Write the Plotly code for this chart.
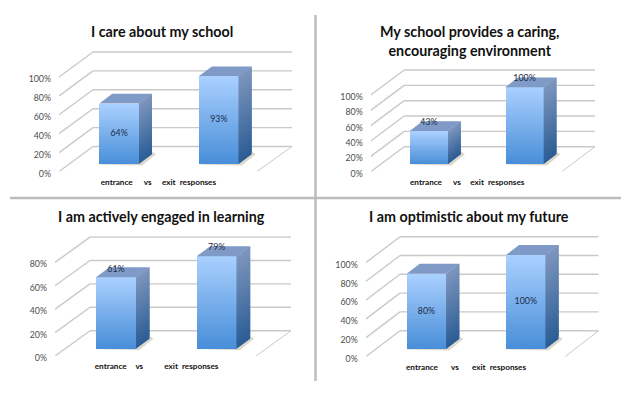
import plotly.graph_objects as go

# ---- data ----
TITLES = ["I care about my school",
          "My school provides a caring,<br>encouraging environment",
          "I am actively engaged in learning",
          "I am optimistic about my future"]
CATEGORY_LABELS = ["entrance", "vs", "exit  responses"]
SCHOOL_CARE = [64, 93]
CARING_ENV = [43, 100]
ENGAGED = [61, 79]
OPTIMISTIC = [80, 100]
AXIS_MAX = [100, 100, 80, 100]
VALUES = [SCHOOL_CARE, CARING_ENV, ENGAGED, OPTIMISTIC]

# ---- layout geometry (pixels in the 633x396 page) ----
W, H = 633, 396
PANELS = [
    dict(fx=59, y0=171.5, scale=0.945, dx=34, dy=25, right=292, fr=257, bars=(99.3, 199), bw=39.7,
         bdx=13, bdy=9.7, base=7.5, tx=162, ty=31.5, lab=(116.7, 147.7, 189), label_top=(False, False)),
    dict(fx=370.7, y0=171.7, scale=0.767, dx=33.5, dy=25, right=595, fr=561.7, bars=(409.7, 505.3), bw=38.5,
         bdx=12.7, bdy=9.7, base=7.7, tx=469, ty=41, lab=(426, 457, 497.3), label_top=(True, True)),
    dict(fx=55, y0=356, scale=1.17, dx=35, dy=25.3, right=291, fr=256, bars=(96, 196.7), bw=40,
         bdx=13.5, bdy=10, base=7.3, tx=161.7, ty=216.7, lab=(110.7, 139.3, 191.3), label_top=(True, True)),
    dict(fx=365.7, y0=356.7, scale=0.94, dx=34.3, dy=26, right=598.7, fr=565, bars=(406.7, 506), bw=39.6,
         bdx=13, bdy=10, base=7.7, tx=469, ty=216.7, lab=(422, 455, 499), label_top=(False, False)),
]
FRONT_TOP, FRONT_BOT = (170, 208, 255), (72, 142, 216)
SIDE_TOP, SIDE_BOT = (126, 150, 190), (42, 92, 148)
TOP_FACE = "#7f9ac6"
SHADOW = "#dcd9cc"
GRID = "#c9c9c9"
TICK_FONT = dict(family="Lato", size=8.8, color="#4d4d4d")
CAT_FONT = dict(family="Lato", size=8.2, color="#111111", weight="bold")
N_SLICES = 30


def mix(a, b, t):
    return "rgb(%d,%d,%d)" % tuple(round(a[i] + (b[i] - a[i]) * t) for i in range(3))


fig = go.Figure()
layout = dict(width=W, height=H, margin=dict(l=0, r=0, t=0, b=0, autoexpand=False), autosize=False,
              paper_bgcolor="white", plot_bgcolor="rgba(0,0,0,0)", showlegend=False, barmode="overlay",
              bargap=0)
shapes, annotations = [], []

for i, (p, vals, amax, title) in enumerate(zip(PANELS, VALUES, AXIS_MAX, TITLES)):
    s = "" if i == 0 else str(i + 1)
    xa, ya = "x" + s, "y" + s
    sc = p["scale"]
    dy_val = p["dy"] / sc
    top_val = amax + dy_val + 1 / sc
    spacing = p["bars"][1] - p["bars"][0]
    c0 = p["bars"][0] + p["bw"] / 2
    to_x = lambda px: (px - c0) / spacing
    xunit = 1 / spacing

    layout["xaxis" + s] = dict(
        domain=[p["fx"] / W, p["right"] / W], range=[to_x(p["fx"]), to_x(p["right"])],
        anchor=ya, showgrid=False, zeroline=False, showline=False, ticks="",
        tickmode="array", tickvals=[to_x(v) for v in p["lab"]], ticktext=CATEGORY_LABELS,
        tickfont=CAT_FONT, tickangle=0, ticklabelstandoff=4, fixedrange=True)
    y_top_px = p["y0"] - top_val * sc
    layout["yaxis" + s] = dict(
        domain=[1 - p["y0"] / H, 1 - y_top_px / H], range=[0, top_val],
        anchor=xa, showgrid=False, zeroline=False, showline=False, ticks="",
        tickmode="array", tickvals=list(range(0, amax + 1, 20)),
        ticktext=["%d%%" % v for v in range(0, amax + 1, 20)],
        tickfont=TICK_FONT, ticklabelstandoff=7, ticklabelshift=2, fixedrange=True)

    # walls and floor
    line = dict(color=GRID, width=1.4)
    bx = to_x(p["fx"] + p["dx"])
    for v in range(0, amax + 1, 20):
        shapes.append(dict(type="line", layer="below", xref=xa, yref=ya, x0=to_x(p["fx"]), y0=v,
                           x1=bx, y1=v + dy_val, line=line))
        shapes.append(dict(type="line", layer="below", xref=xa, yref=ya, x0=bx, y0=v + dy_val,
                           x1=to_x(p["right"]), y1=v + dy_val, line=line))
    shapes.append(dict(type="line", layer="below", xref=xa, yref=ya, x0=to_x(p["fr"]), y0=0,
                       x1=to_x(p["right"]), y1=dy_val, line=dict(color=GRID, width=1)))

    base = p["base"] / sc
    half = p["bw"] / 2 * xunit
    bdx, bdy = p["bdx"] * xunit, p["bdy"] / sc
    for k, v in enumerate(vals):
        # floor shadow
        xr = k + half
        shapes.append(dict(type="path", layer="below", xref=xa, yref=ya,
                           path="M %f %f L %f %f L %f %f L %f %f L %f %f Z" % (
                               k - half - 2 * xunit, base - 0.4 / sc,
                               xr + 3 * xunit, base - 1.6 / sc,
                               xr + bdx + 4 * xunit, base + bdy,
                               xr + bdx, base + bdy + 3 / sc,
                               xr, base + 3 / sc),
                           fillcolor=SHADOW, line=dict(width=0)))
        # front face as stacked gradient slices
        seg = v / N_SLICES
        fig.add_trace(go.Bar(
            x=[k] * N_SLICES, y=[seg] * N_SLICES,
            base=[base + seg * j for j in range(N_SLICES)],
            width=p["bw"] * xunit,
            marker=dict(color=[mix(FRONT_BOT, FRONT_TOP, (j + 0.5) / N_SLICES) for j in range(N_SLICES)],
                        line=dict(width=0)),
            xaxis=xa, yaxis=ya, hoverinfo="skip"))
        # side face: slices painted bottom-up, each overlapped by the next to avoid seams
        for j in range(N_SLICES):
            y1 = base + seg * j
            y2 = base + seg * min(j + 2, N_SLICES)
            col = mix(SIDE_BOT, SIDE_TOP, (j + 0.5) / N_SLICES)
            fig.add_trace(go.Scatter(
                x=[xr, xr + bdx, xr + bdx, xr, xr], y=[y1, y1 + bdy, y2 + bdy, y2, y1],
                mode="lines", fill="toself", fillcolor=col, line=dict(color=col, width=0),
                xaxis=xa, yaxis=ya, hoverinfo="skip"))
        # top face
        yt = base + v
        fig.add_trace(go.Scatter(
            x=[k - half, k + half, xr + bdx, k - half + bdx, k - half],
            y=[yt, yt, yt + bdy, yt + bdy, yt],
            mode="lines", fill="toself", fillcolor=TOP_FACE, line=dict(color=TOP_FACE, width=0),
            xaxis=xa, yaxis=ya, hoverinfo="skip"))
        # value label
        ly = yt + 8 / sc if p["label_top"][k] else base + v / 2
        fig.add_trace(go.Scatter(
            x=[k], y=[ly], mode="text", text=["%d%%" % v],
            textfont=dict(family="Lato", size=8.8, color="#1d2b45"), textposition="middle center",
            xaxis=xa, yaxis=ya, hoverinfo="skip", cliponaxis=False))

    annotations.append(dict(text=title, xref="paper", yref="paper", x=p["tx"] / W, y=1 - p["ty"] / H,
                            xanchor="center", yanchor="middle", showarrow=False,
                            font=dict(family="Lato", size=14.3, color="#111111", weight="bold"),
                            align="center"))

# panel dividers
divider = dict(color="#bdbdbd", width=2.5)
shapes.append(dict(type="line", xref="paper", yref="paper", x0=315.5 / W, x1=315.5 / W,
                   y0=1 - 15 / H, y1=1 - 381 / H, line=divider))
shapes.append(dict(type="line", xref="paper", yref="paper", x0=10 / W, x1=621 / W,
                   y0=1 - 198 / H, y1=1 - 198 / H, line=divider))

layout["shapes"] = shapes
layout["annotations"] = annotations
fig.update_layout(**layout)
fig.write_html("out.html", config=dict(displayModeBar=False),
               post_script="document.body.style.margin='0';")
